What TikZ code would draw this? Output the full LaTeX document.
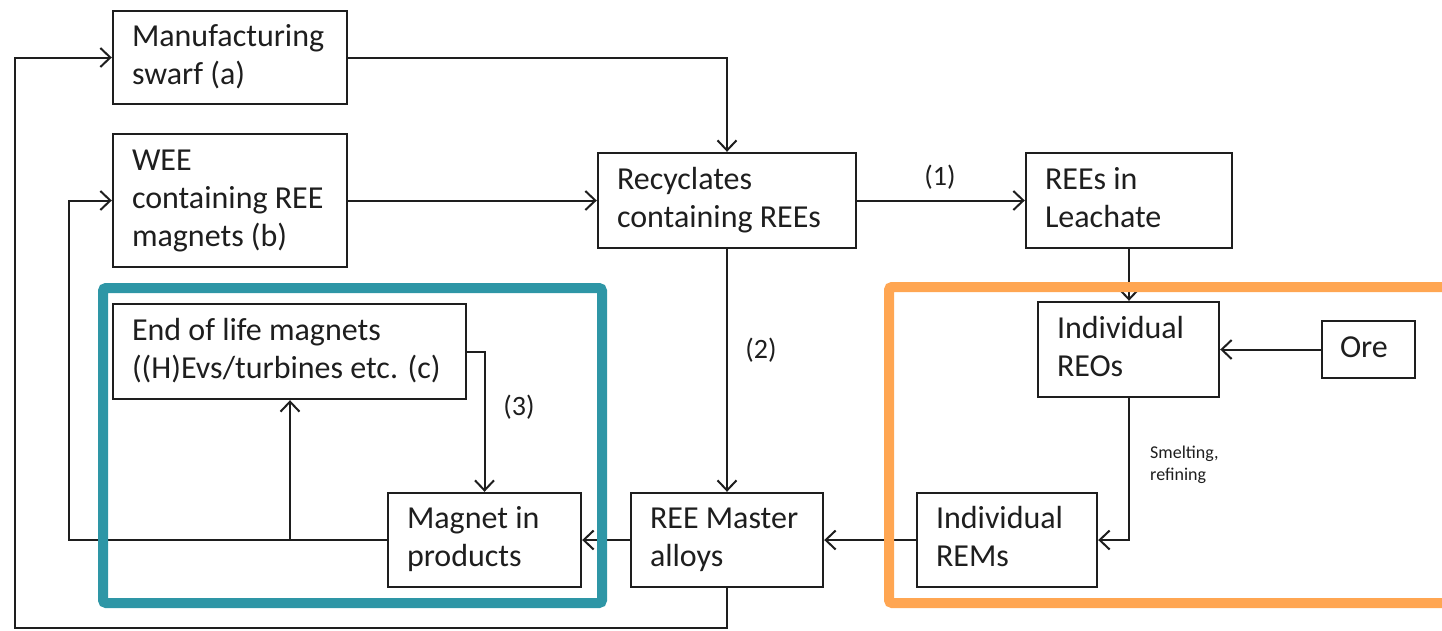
\documentclass[tikz,border=0pt]{standalone}
\usepackage{fontspec}
\setmainfont{Carlito}
\usetikzlibrary{arrows.meta}
\definecolor{tealf}{RGB}{46,150,166}
\definecolor{orangef}{RGB}{255,166,82}
\definecolor{ink}{RGB}{30,30,30}
\newcommand\bxt[2]{\makebox[#1][l]{\begin{tabular}{@{}l@{}}#2\end{tabular}}}
\begin{document}
\begin{tikzpicture}[x=1pt,y=-1pt,
  box/.style={draw=ink, line width=2.4pt, inner sep=0pt, text=ink, font=\fontsize{32}{38}\selectfont},
  arr/.style={draw=ink, line width=2pt, -{Straight Barb[length=10pt,width=19pt]}},
  lab/.style={text=ink, font=\fontsize{28}{34}\selectfont, inner sep=0pt},
  small/.style={text=ink, font=\fontsize{18}{22}\selectfont, inner sep=0pt, align=left},
  frame/.style={line width=10pt, rounded corners=3pt},
]
\useasboundingbox (0,0) rectangle (1442,630);

% boxes
\node[box, minimum width=234pt, minimum height=93pt] (swarf) at (230,57.5) {\bxt{196pt}{Manufacturing\\swarf (a)}};
\node[box, minimum width=234pt, minimum height=133pt] (wee) at (230,200.5) {\bxt{196pt}{WEE\\containing REE\\magnets (b)}};
\node[box, minimum width=353pt, minimum height=95pt] (eol) at (289.5,351.5) {\bxt{315pt}{End of life magnets\\((H)Evs/turbines etc. (c)}};
\node[box, minimum width=193pt, minimum height=94pt] (magnet) at (484.5,540) {\bxt{155pt}{Magnet in\\products}};
\node[box, minimum width=258pt, minimum height=95pt] (recyc) at (727,200.5) {\bxt{220pt}{Recyclates\\containing REEs}};
\node[box, minimum width=206pt, minimum height=95pt] (leach) at (1129,200.5) {\bxt{168pt}{REEs in\\Leachate}};
\node[box, minimum width=181pt, minimum height=95pt] (reos) at (1128.5,349.5) {\bxt{143pt}{Individual\\REOs}};
\node[box, minimum width=93pt, minimum height=57pt] (ore) at (1368.5,349.5) {\bxt{57pt}{Ore}};
\node[box, minimum width=180pt, minimum height=94pt] (rems) at (1007,540) {\bxt{142pt}{Individual\\REMs}};
\node[box, minimum width=192pt, minimum height=94pt] (master) at (727,540) {\bxt{154pt}{REE Master\\alloys}};

% helper coordinates
\coordinate (c1) at (15,628);
\coordinate (c2) at (69,540);
\coordinate (c3) at (290,540);

% connectors
\draw[arr] (swarf.east) -| (recyc.north);
\draw[arr] (wee.east) -- (recyc.west);
\draw[arr] (recyc.east) -- (leach.west);
\draw[arr] (recyc.south) -- (master.north);
\draw[arr] (leach.south) -- (leach.south |- reos.north);
\draw[arr] (ore.west) -- (reos.east);
\draw[arr] (reos.south) |- (rems.east);
\draw[arr] (rems.west) -- (master.east);
\draw[arr] (master.west) -- (magnet.east);
\draw[arr] (eol.east) -| (magnet.north);
\draw[arr] (magnet.west) -- (c2) |- (wee.west);
\draw[arr] (c3) -- (c3 |- eol.south);
\draw[arr] (master.south) |- (c1) |- (swarf.west);

% labels
\node[lab] (l1) at (940,177) {(1)};
\node[lab] (l2) at (761,350) {(2)};
\node[lab] (l3) at (519,407) {(3)};
\node[small, anchor=west] (sm) at (1150,465) {Smelting,\\refining};

% frames
\draw[frame, draw=tealf] (103,288) rectangle (602,603);
\begin{scope}
\clip (0,0) rectangle (1442,630);
\draw[frame, draw=orangef] (1460,287) -- (889,287) -- (889,603) -- (1460,603);
\end{scope}
\end{tikzpicture}
\end{document}
